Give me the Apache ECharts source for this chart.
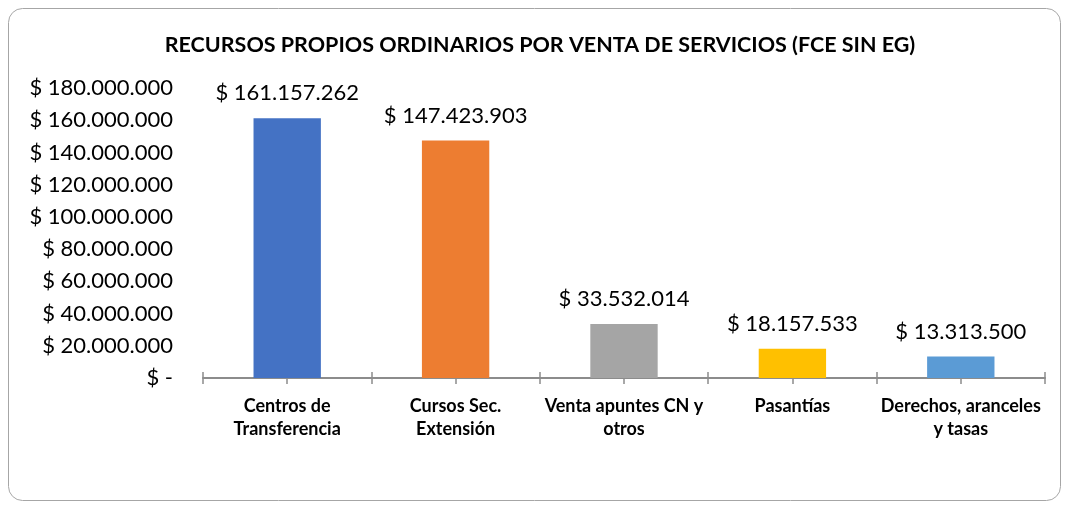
<!DOCTYPE html>
<html>
<head>
<meta charset="utf-8">
<script src="https://cdn.jsdelivr.net/npm/echarts@6/dist/echarts.min.js"></script>
<style>
  html, body { margin: 0; padding: 0; background: #fff; }
  #chart { width: 1066px; height: 505px; }
</style>
</head>
<body>
<div id="chart"></div>
<script>
// categorias y montos
const categories = [
  'Centros de\nTransferencia',
  'Cursos Sec.\nExtensión',
  'Venta apuntes CN y\notros',
  'Pasantías',
  'Derechos, aranceles\ny tasas'
]
const values = [161157262, 147423903, 33532014, 18157533, 13313500]
const barColors = ['#4472C4', '#ED7D31', '#A5A5A5', '#FFC000', '#5B9BD5']
const yTicks = [0, 20000000, 40000000, 60000000, 80000000, 100000000, 120000000, 140000000, 160000000, 180000000]

const font = 'Lato, "Open Sans", sans-serif'

// formato $ 1.234.567
function money(v) {
  if (v === 0) return '$ -'
  return '$ ' + String(Math.round(v)).replace(/\B(?=(\d{3})+(?!\d))/g, '.')
}

const chart = echarts.init(document.getElementById('chart'))

const tickStyle = { color: '#8c8c8c', width: 1.5 }
const baseAxis = {
  type: 'category',
  data: categories,
  position: 'bottom',
  axisLine: { show: false },
  axisLabel: { show: false },
  splitLine: { show: false }
}

chart.setOption({
  animation: false,
  graphic: [{
    type: 'rect',
    shape: { x: 8.5, y: 8.5, width: 1052, height: 492, r: 14 },
    style: { fill: 'none', stroke: '#a6a6a6', lineWidth: 1 },
    silent: true
  }, {
    type: 'text',
    x: 540,
    y: 45,
    style: {
      text: 'RECURSOS PROPIOS ORDINARIOS POR VENTA DE SERVICIOS (FCE SIN EG)',
      font: 'bold 21.5px ' + font,
      fill: '#000',
      align: 'center',
      verticalAlign: 'middle'
    },
    silent: true
  }],
  grid: { left: 203, right: 21, top: 88, bottom: 127 },
  xAxis: [
    {
      type: 'category',
      data: categories,
      axisLine: { show: true, lineStyle: { color: '#8c8c8c', width: 2 } },
      axisTick: { show: true, length: 6, lineStyle: tickStyle },
      axisLabel: {
        interval: 0,
        margin: 17,
        fontFamily: font,
        fontWeight: 'bold',
        fontSize: 18,
        lineHeight: 23,
        color: '#000'
      }
    },
    // parte interior de las marcas mayores
    Object.assign({}, baseAxis, {
      axisTick: { show: true, inside: true, length: 6, lineStyle: tickStyle }
    }),
    // marcas al centro de cada categoria
    Object.assign({}, baseAxis, {
      axisTick: { show: true, alignWithLabel: true, length: 6, lineStyle: tickStyle }
    })
  ],
  yAxis: {
    type: 'value',
    min: 0,
    max: 180000000,
    interval: 20000000,
    axisLine: { show: false },
    axisTick: { show: false },
    splitLine: { show: false },
    axisLabel: {
      margin: 30,
      fontFamily: font,
      fontSize: 22,
      color: '#000',
      formatter: v => money(v)
    }
  },
  series: [{
    type: 'bar',
    barWidth: '40%',
    data: values.map((v, i) => ({ value: v, itemStyle: { color: barColors[i] } })),
    label: {
      show: true,
      position: 'top',
      distance: 14,
      fontFamily: font,
      fontSize: 22,
      color: '#000',
      formatter: p => money(p.value)
    }
  }]
})
</script>
</body>
</html>
